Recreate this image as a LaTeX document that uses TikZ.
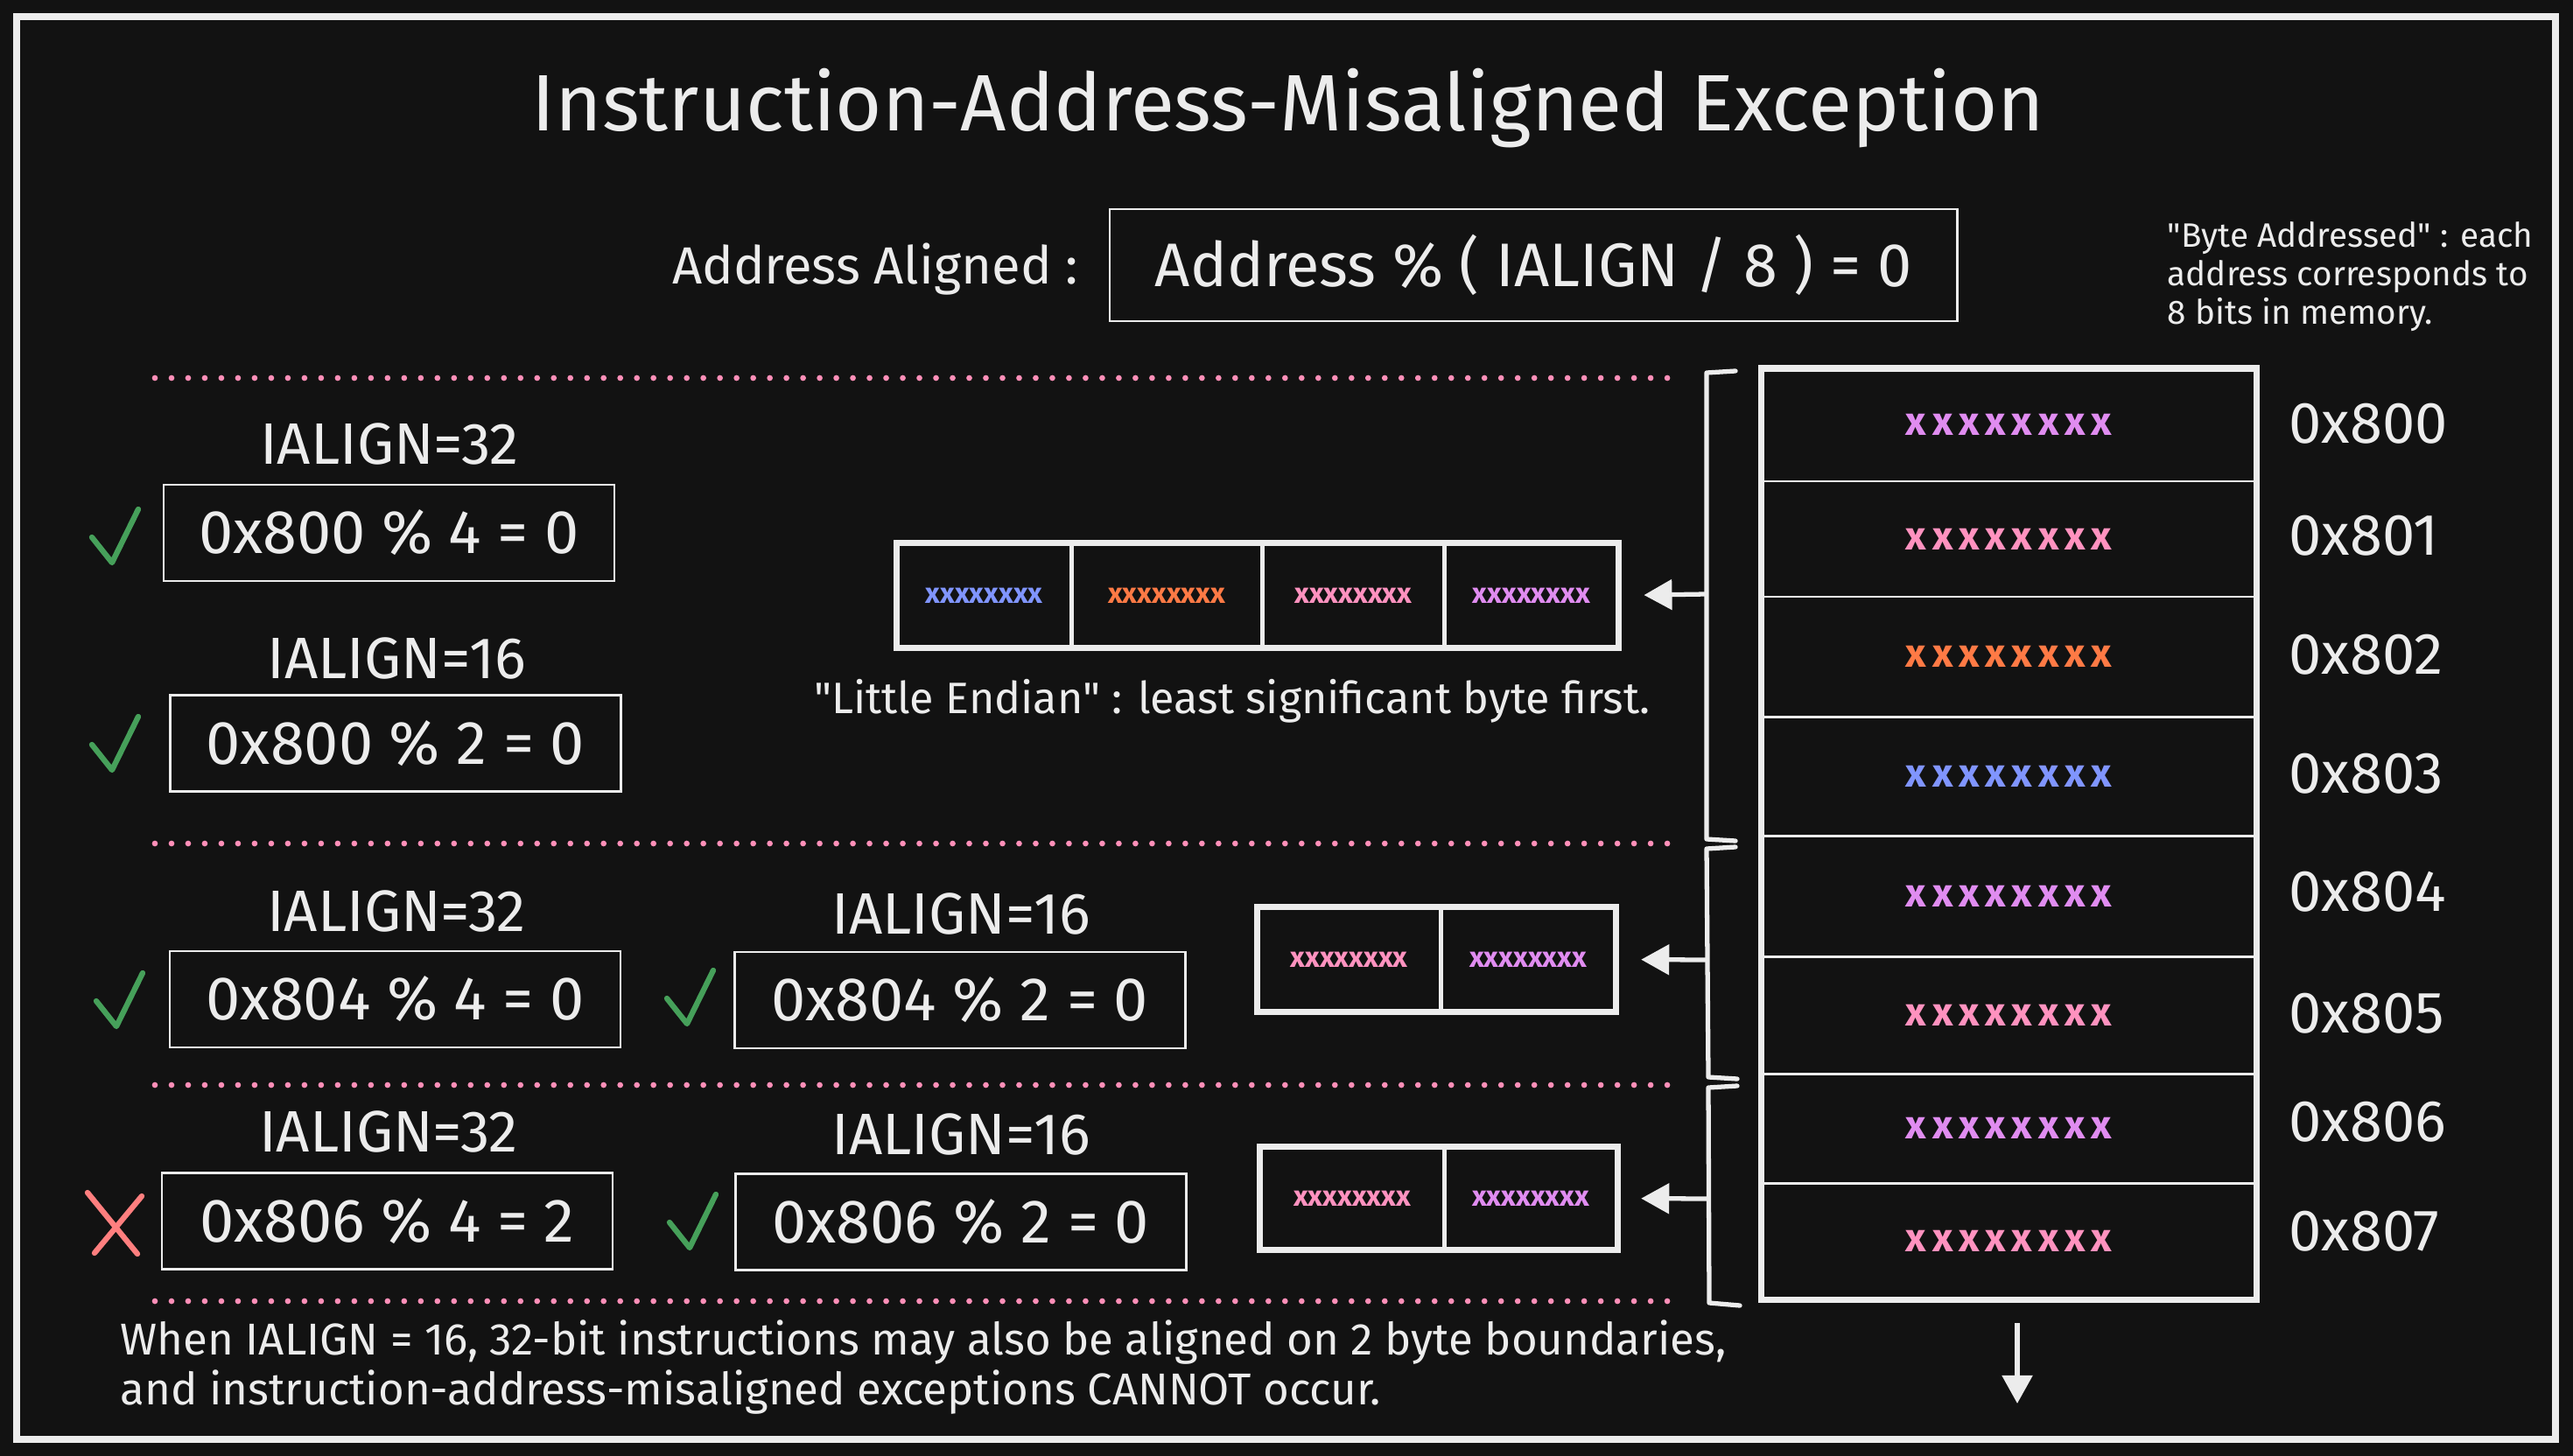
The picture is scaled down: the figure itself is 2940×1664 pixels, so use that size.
\documentclass[tikz,border=0pt]{standalone}
\usepackage{fontspec}
\setmainfont{Fira Sans}[Ligatures=TeXOff]
\newfontfamily\xfont[LetterSpace=15]{Fira Sans}
\usetikzlibrary{positioning,arrows.meta}
\definecolor{bg}{HTML}{121212}
\definecolor{ink}{HTML}{ECECEC}
\definecolor{dotpink}{HTML}{FF8FB8}
\definecolor{xviolet}{HTML}{E08CF0}
\definecolor{xpink}{HTML}{FF92BF}
\definecolor{xorange}{HTML}{FF7A45}
\definecolor{xblue}{HTML}{8095FF}
\definecolor{okgreen}{HTML}{46A05A}
\definecolor{badred}{HTML}{FF7F7F}
\tikzset{
  txt/.style={text=ink, inner sep=0pt},
  heading/.style={txt, font=\fontsize{26}{30}\selectfont},
  lbl/.style={txt, font=\fontsize{17}{20}\selectfont},
  ialign/.style={txt, font=\fontsize{19}{22}\selectfont},
  addr/.style={txt, font=\fontsize{19}{22}\selectfont},
  small/.style={txt, font=\fontsize{11}{12.5}\selectfont, align=left},
  caption/.style={txt, font=\fontsize{14.3}{17}\selectfont},
  foot/.style={txt, font=\fontsize{14.5}{16.2}\selectfont, align=left},
  fbox/.style={draw=ink, line width=0.7pt, text=ink, font=\fontsize{20}{24}\selectfont,
    minimum width=5.15cm, minimum height=1.1cm, inner sep=0pt},
  memrow/.style={draw=ink, line width=0.85pt, minimum width=5.65cm, inner sep=0pt,
    outer sep=0pt, font=\xfont\bfseries\fontsize{13}{15}\selectfont},
  cell/.style={draw=ink, line width=1.4pt, inner sep=0pt, outer sep=0pt,
    font=\bfseries\fontsize{9.3}{11}\selectfont},
  edge/.style={draw=ink, line width=2pt},
  brace/.style={draw=ink, line width=1.5pt, line join=round, line cap=round},
  arr/.style={draw=ink, line width=1.5pt, -{Triangle[length=0.32cm,width=0.34cm]}},
  dots/.style={draw=dotpink, line width=1.9pt, line cap=round, dash pattern=on 0pt off 5.4pt},
  tick/.style={draw=okgreen, line width=1.8pt, line cap=round, line join=round},
  cross/.style={draw=badred, line width=1.8pt, line cap=round}
}
\begin{document}
\begin{tikzpicture}[x=0.01cm, y=-0.01cm]
  \fill[bg] (0,0) rectangle (2940,1664);
  \useasboundingbox (0,0) rectangle (2940,1664);
  \draw[ink, line width=2.3pt] (19,19) rectangle (2920,1645);

  \node[heading, anchor=base] (title) at (1472,150) {Instruction-Address-Misaligned Exception};
  \node[lbl, anchor=base] (aligned) at (1000,325) {Address Aligned :};
  \node[fbox, minimum width=9.68cm, minimum height=1.28cm] (rule) at (1752,303) {Address \% ( IALIGN / 8 ) = 0};
  \node[small, anchor=base west] (note) at (2476,370) {"Byte Addressed" : each\\address corresponds to\\8 bits in memory.};

  \foreach \y in {432,964,1240,1487}
    \draw[dots] (177,\y) -- (1915,\y);

  \node[ialign, anchor=base] (a32) at (445,530) {IALIGN=32};
  \node[fbox] (a32box) at (444.5,609) {0x800 \% 4 = 0};
  \node[ialign, anchor=base] (a16) at (453,775) {IALIGN=16};
  \node[fbox] (a16box) at (452,849.5) {0x800 \% 2 = 0};

  \node[ialign, anchor=base] (b32) at (453,1064) {IALIGN=32};
  \node[fbox] (b32box) at (451.5,1142) {0x804 \% 4 = 0};
  \node[ialign, anchor=base] (b16) at (1098,1067) {IALIGN=16};
  \node[fbox] (b16box) at (1097,1143) {0x804 \% 2 = 0};

  \node[ialign, anchor=base] (c32) at (444,1316) {IALIGN=32};
  \node[fbox] (c32box) at (442.5,1395.5) {0x806 \% 4 = 2};
  \node[ialign, anchor=base] (c16) at (1098,1319) {IALIGN=16};
  \node[fbox] (c16box) at (1098,1396.5) {0x806 \% 2 = 0};

  \foreach \x/\y in {105/614, 105/851, 110/1144, 762/1141, 765/1397}
    \draw[tick] (\x,\y) -- ++(23,29) -- ++(30,-61);
  \draw[cross] (100,1363) -- (157,1433) (162,1367) -- (108,1432);

  \node[cell, minimum width=1.99cm, minimum height=1.19cm, text=xblue] (e1) at (1124.5,680.5) {xxxxxxxx};
  \node[cell, minimum width=2.18cm, minimum height=1.19cm, text=xorange, right=0pt of e1] (e2) {xxxxxxxx};
  \node[cell, minimum width=2.08cm, minimum height=1.19cm, text=xpink, right=0pt of e2] (e3) {xxxxxxxx};
  \node[cell, minimum width=1.99cm, minimum height=1.19cm, text=xviolet, right=0pt of e3] (e4) {xxxxxxxx};
  \draw[edge] (e1.north west) rectangle (e4.south east);
  \node[caption, anchor=base] (endian) at (1408,815) {"Little Endian" : least significant byte first.};

  \node[cell, minimum width=2.09cm, minimum height=1.19cm, text=xpink] (f1) at (1541.5,1096.5) {xxxxxxxx};
  \node[cell, minimum width=2.00cm, minimum height=1.19cm, text=xviolet, right=0pt of f1] (f2) {xxxxxxxx};
  \draw[edge] (f1.north west) rectangle (f2.south east);

  \node[cell, minimum width=2.10cm, minimum height=1.17cm, text=xpink] (g1) at (1545,1369.5) {xxxxxxxx};
  \node[cell, minimum width=1.98cm, minimum height=1.17cm, text=xviolet, right=0pt of g1] (g2) {xxxxxxxx};
  \draw[edge] (g1.north west) rectangle (g2.south east);

  \foreach \i/\t/\b/\c/\a/\l in {0/421/550/xviolet/800/506, 1/550/682/xpink/801/634,
      2/682/819/xorange/802/770, 3/819/955/xblue/803/906, 4/955/1093/xviolet/804/1041,
      5/1093/1227/xpink/805/1180, 6/1227/1352/xviolet/806/1304, 7/1352/1485/xpink/807/1429}{
    \node[memrow, minimum height={(\b-\t)*0.01cm}, text=\c] (m\i) at (2295.5,{(\t+\b)/2}) {xxxxxxxx};
    \node[addr, anchor=base west] (a\i) at (2615,\l) {0x\a};
  }
  \draw[edge] (m0.north west) rectangle (m7.south east);

  \draw[brace] (1983,424) -- (1950,426) -- (1950,959) -- (1983,961);
  \draw[brace] (1983,968) -- (1950,970) -- (1952,1231) -- (1985,1233);
  \draw[brace] (1985,1241) -- (1952,1243) -- (1953,1489) -- (1988,1492);
  \coordinate (s1) at (1950,679);
  \coordinate (s2) at (1951,1097);
  \coordinate (s3) at (1953,1370);
  \draw[arr, shorten >=0.29cm] (s1) -- (e4.east);
  \draw[arr, shorten >=0.29cm] (s2) -- (f2.east);
  \draw[arr, shorten >=0.27cm] (s3) -- (g2.east);

  \coordinate (dn) at (2305,1604);
  \draw[arr, shorten <=0.27cm] (m7.south -| dn) -- (dn);

  \node[foot, anchor=base west] (footer) at (137,1605) {When IALIGN = 16, 32-bit instructions may also be aligned on 2 byte boundaries,\\and instruction-address-misaligned exceptions CANNOT occur.};
\end{tikzpicture}
\end{document}
